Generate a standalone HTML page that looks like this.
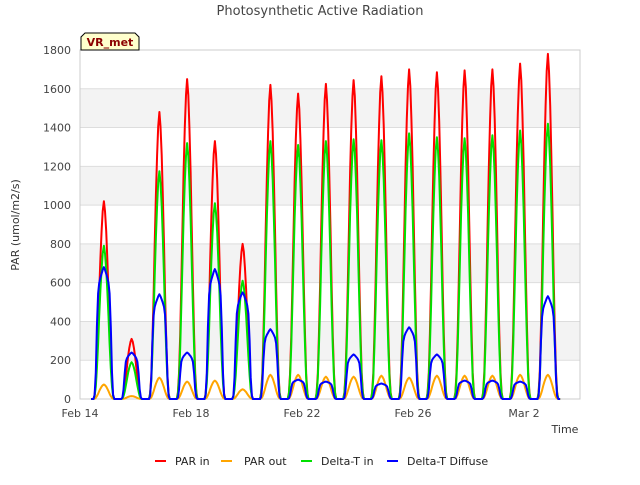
<!DOCTYPE html>
<html><head><meta charset="utf-8">
<style>
body{margin:0;background:#fff;font-family:"Liberation Sans","DejaVu Sans",sans-serif;}
svg text{font-family:"DejaVu Sans","Liberation Sans",sans-serif;}
</style></head>
<body>
<svg id="chart" width="640" height="480" viewBox="0 0 640 480">
<rect x="0" y="0" width="640" height="480" fill="#fff"/>
<text x="320" y="15" text-anchor="middle" font-size="13" fill="#444">Photosynthetic Active Radiation</text>
<g id="bands"></g>
<g id="grid"></g>
<rect x="80" y="50" width="500" height="349" fill="none" stroke="#ccc"/>
<g id="yticks"></g>
<g id="xticks"></g>
<g id="series"></g>
<text transform="translate(19,225) rotate(-90)" text-anchor="middle" font-size="11" fill="#333">PAR (umol/m2/s)</text>
<text x="565" y="433" text-anchor="middle" font-size="11" fill="#333">Time</text>
<g>
<path d="M81,50 L81,37 L85,33 L135,33 L139,37 L139,50 Z" fill="#ffffcc" stroke="#000" stroke-width="1"/>
<text x="110" y="46" text-anchor="middle" font-size="11" font-weight="bold" fill="#8b0000">VR_met</text>
</g>
<g id="legend"></g>
</svg>
<script>
const dayPeakOffset = 0.86;
const parIn = [1020,310,1480,1650,1330,800,1620,1575,1625,1645,1665,1700,1685,1695,1700,1730,1780];
const parOut = [75,15,110,90,95,50,125,125,115,115,120,110,120,120,120,125,125];
const deltaTIn = [790,190,1175,1320,1010,610,1330,1310,1330,1340,1335,1370,1350,1345,1360,1385,1420];
const deltaTDiffuse = [680,240,540,240,670,550,360,100,90,230,80,370,230,95,95,90,530];
const profileHours = [-9,-8,-7,-6,-5,-4,-3,-2,-1,0,1,2,3,4,5,6,7,8,9];
const profileBell = [0,0.02,0.08,0.2,0.36,0.54,0.71,0.85,0.95,1,0.95,0.85,0.71,0.54,0.36,0.2,0.08,0.02,0];
const profileFlat = [0,0.03,0.2,0.55,0.8,0.88,0.92,0.95,0.98,1,0.98,0.95,0.92,0.88,0.8,0.55,0.2,0.03,0];
const yTicks = [0,200,400,600,800,1000,1200,1400,1600,1800];
const xTickLabels = ["Feb 14","Feb 18","Feb 22","Feb 26","Mar 2"];
const xTickDays = [0,4,8,12,16];

const NS="http://www.w3.org/2000/svg";
const X0=80,X1=580,Y0=399,Y1=50;
const pxPerDay=27.75;
function xs(d){return X0+d*pxPerDay;}
function ys(v){return Y0-(v/1800)*(Y0-Y1);}
function mk(tag,attrs,parent){const e=document.createElementNS(NS,tag);for(const k in attrs)e.setAttribute(k,attrs[k]);parent.appendChild(e);return e;}

const bands=document.getElementById('bands');
for(let i=0;i<yTicks.length-1;i++){
  if(i%2===1){
    const r=mk('rect',{x:X0,y:ys(yTicks[i+1]),width:X1-X0,height:ys(yTicks[i])-ys(yTicks[i+1]),fill:'#f3f3f3'},bands);
    
    
  }
}
const grid=document.getElementById('grid'),yt=document.getElementById('yticks');
yTicks.forEach(v=>{
  const l=mk('line',{x1:X0,x2:X1,y1:ys(v),y2:ys(v),stroke:'#ddd'},grid);
  
  
  const t=mk('text',{x:X0-9,y:ys(v)+4,'text-anchor':'end','font-size':'11',fill:'#444'},yt);
  t.textContent=v;
  
  
});
const xt=document.getElementById('xticks');
xTickLabels.forEach((s,i)=>{
  const t=mk('text',{x:xs(xTickDays[i]),y:417,'text-anchor':'middle','font-size':'11',fill:'#444'},xt);
  t.textContent=s;
  
  
});

function buildPath(peaks,profile){
  let pts=[[xs(0.4),ys(0)]];
  peaks.forEach((p,d)=>{
    const c=d+dayPeakOffset;
    profileHours.forEach((h,i)=>{pts.push([xs(c+h/24),ys(p*profile[i])]);});
  });
  pts.push([xs(17.3),ys(0)]);
  return 'M'+pts.map(q=>q[0].toFixed(1)+','+q[1].toFixed(1)).join(' L');
}
const series=document.getElementById('series');
const defs=[
  ['par-in-line',parIn,profileBell,'#ff0000'],
  ['par-out-line',parOut,profileBell,'#ffa500'],
  ['delta-t-in-line',deltaTIn,profileBell,'#00e000'],
  ['delta-t-diffuse-line',deltaTDiffuse,profileFlat,'#0000ff']
];
defs.forEach(s=>{
  const p=mk('path',{d:buildPath(s[1],s[2]),fill:'none',stroke:s[3],'stroke-width':'2','stroke-linejoin':'round'},series);
  
  
});

const legend=document.getElementById('legend');
const leg=[['PAR in','#ff0000',155,175],['PAR out','#ffa500',221,244],['Delta-T in','#00e000',301,321],['Delta-T Diffuse','#0000ff',387,407]];
leg.forEach(e=>{
  const g=mk('g',{},legend);
  
  
  mk('line',{x1:e[2],x2:e[2]+11,y1:461,y2:461,stroke:e[1],'stroke-width':'2'},g);
  const t=mk('text',{x:e[3],y:465,'font-size':'11',fill:'#222'},g);
  t.textContent=e[0];
});
</script>
</body></html>
